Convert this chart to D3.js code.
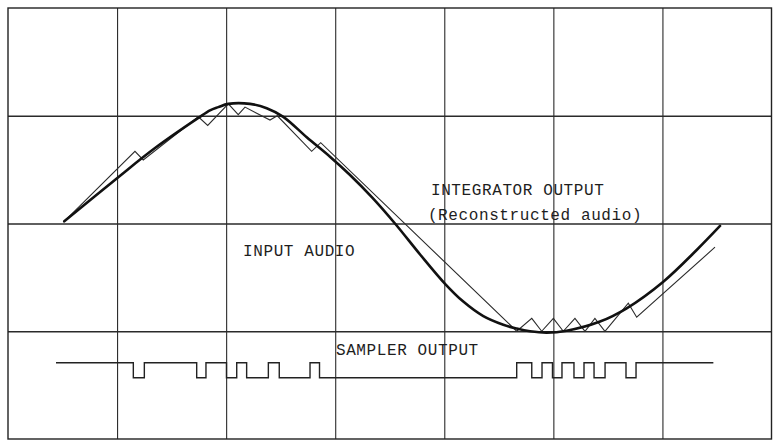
<!DOCTYPE html>
<html>
<head>
<meta charset="utf-8">
<script src="https://cdn.jsdelivr.net/npm/d3@7"></script>
<style>
  html, body { margin: 0; padding: 0; background: #fff; }
  svg { display: block; }
  .lbl { font-family: "Liberation Mono", "DejaVu Sans Mono", monospace; font-size: 16px; fill: #1e1e1e; letter-spacing: 0.6px; }
</style>
</head>
<body>
<svg id="chart" width="778" height="441"></svg>
<script>
// ---- data (time in grid tenths, amplitude in grid divisions) ----
const inputX = [5.16, 10.11, 13.48, 17.45, 18.52, 19.28, 20.20, 22.19, 23.72, 25.24, 27.39, 29.52, 31.36, 33.40, 35.48, 37.80, 40.07, 41.74, 43.58, 45.41, 46.64, 47.86, 49.39, 51.22, 54.28, 56.72, 60.08, 63.14, 65.28];
const inputY = [0.02, 0.43, 0.70, 0.98, 1.05, 1.08, 1.11, 1.11, 1.07, 0.99, 0.80, 0.62, 0.45, 0.24, 0.00, -0.29, -0.56, -0.725, -0.86, -0.94, -0.975, -1.0, -1.013, -0.995, -0.91, -0.787, -0.54, -0.246, -0.023];

const integX = [5.16, 11.64, 12.40, 17.45, 18.31, 20.20, 21.11, 21.73, 24.02, 24.69, 27.84, 28.67, 46.64, 48.02, 48.93, 50.00, 50.91, 51.98, 52.90, 53.81, 54.73, 56.87, 57.64, 64.82];
const integY = [0.02, 0.67, 0.59, 0.99, 0.91, 1.11, 1.01, 1.08, 0.96, 1.00, 0.67, 0.75, -1.00, -0.88, -1.00, -0.88, -1.00, -0.88, -1.00, -0.88, -1.00, -0.74, -0.87, -0.22];

const samplerT = [4.40, 11.49, 12.50, 17.30, 18.15, 20.03, 20.97, 21.88, 23.87, 24.87, 27.69, 28.56, 46.64, 48.02, 48.96, 49.92, 50.79, 51.89, 52.81, 53.73, 54.74, 56.66, 57.58, 64.67];
const samplerBits = [1,0,1,0,1,0,1,0,1,0,1,0,1,0,1,0,1,0,1,0,1,0,1];
const samplerLevels = [-1.431, -1.292]; // level for bit 0, bit 1

const gridX = [10, 20, 30, 40, 50, 60];
const gridY = [-1, 0, 1];

const labels = [
  { text: "INTEGRATOR OUTPUT", x: 38.78, y: 0.264 },
  { text: "(Reconstructed audio)", x: 38.5, y: 0.032 },
  { text: "INPUT AUDIO", x: 21.55, y: -0.306 },
  { text: "SAMPLER OUTPUT", x: 30.07, y: -1.216 }
];

// ---- scales ----
const x = d3.scaleLinear().domain([0, 70]).range([8, 771.5]);
const y = d3.scaleLinear().domain([-2, 2]).range([439, 8]);

const svg = d3.select("#chart");

// grid via axes
const gx = svg.append("g")
  .attr("transform", `translate(0,${y(-2)})`)
  .call(d3.axisBottom(x).tickValues(gridX).tickSize(-(y(-2) - y(2))).tickFormat(""));
gx.select(".domain").remove();
gx.selectAll("line").attr("stroke", "#2a2a2a").attr("stroke-width", 1.1);

const gy = svg.append("g")
  .attr("transform", `translate(${x(0)},0)`)
  .call(d3.axisLeft(y).tickValues(gridY).tickSize(-(x(70) - x(0))).tickFormat(""));
gy.select(".domain").remove();
gy.selectAll("line").attr("stroke", "#2a2a2a").attr("stroke-width", 1.3);

// border
svg.append("rect")
  .attr("x", x(0)).attr("y", y(2))
  .attr("width", x(70) - x(0)).attr("height", y(-2) - y(2))
  .attr("fill", "none").attr("stroke", "#222").attr("stroke-width", 1.4);

// integrator output (thin)
const integ = integX.map((d, i) => [d, integY[i]]);
svg.append("path")
  .datum(integ)
  .attr("d", d3.line().x(d => x(d[0])).y(d => y(d[1])))
  .attr("fill", "none").attr("stroke", "#2b2b2b").attr("stroke-width", 1.1)
  .attr("stroke-linejoin", "miter");

// input audio (thick)
const inp = inputX.map((d, i) => [d, inputY[i]]);
svg.append("path")
  .datum(inp)
  .attr("d", d3.line().x(d => x(d[0])).y(d => y(d[1])).curve(d3.curveCatmullRom.alpha(0.5)))
  .attr("fill", "none").attr("stroke", "#111").attr("stroke-width", 2.6)
  .attr("stroke-linecap", "round");

// sampler output
const samp = samplerT.map((t, i) => [t, samplerLevels[samplerBits[Math.min(i, samplerBits.length - 1)]]]);
svg.append("path")
  .datum(samp)
  .attr("d", d3.line().x(d => x(d[0])).y(d => y(d[1])).curve(d3.curveStepAfter))
  .attr("fill", "none").attr("stroke", "#222").attr("stroke-width", 1.4);

// labels
svg.selectAll("text.lbl")
  .data(labels)
  .enter().append("text")
  .attr("class", "lbl")
  .attr("x", d => x(d.x))
  .attr("y", d => y(d.y))
  .text(d => d.text);
</script>
</body>
</html>
